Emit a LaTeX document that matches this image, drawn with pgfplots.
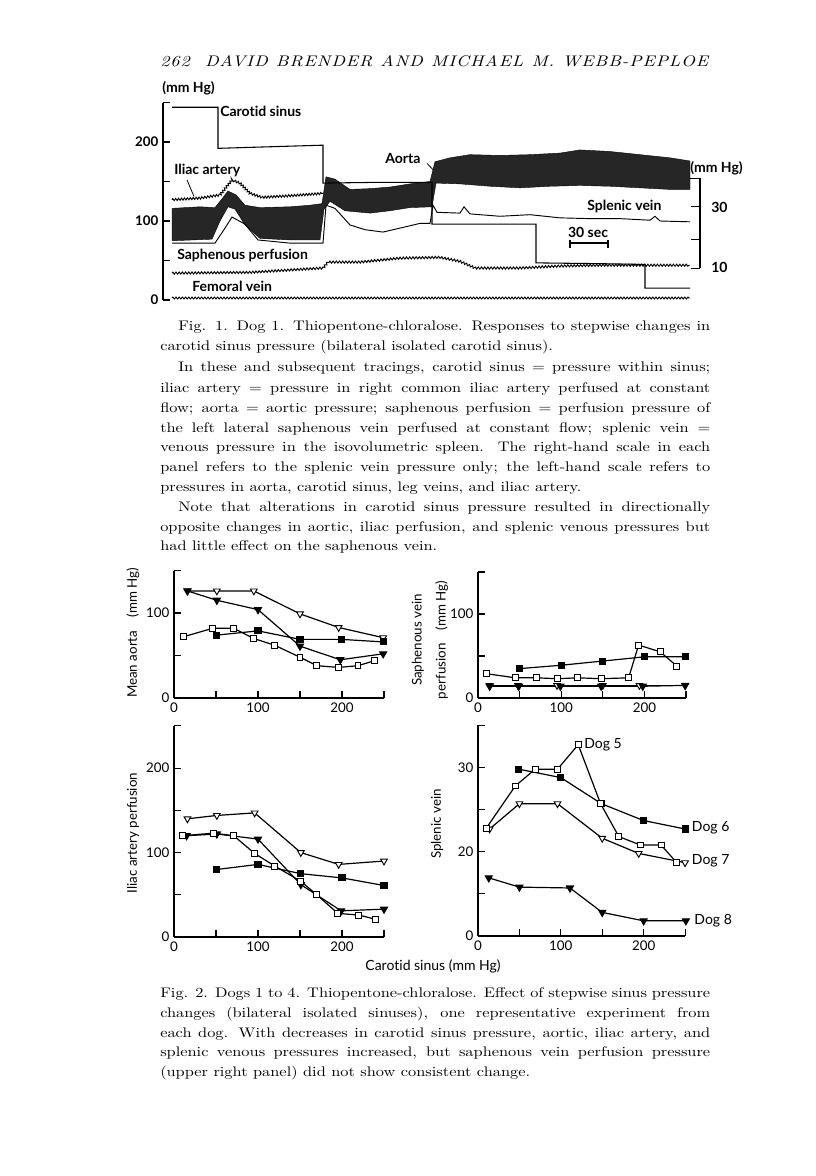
\documentclass[border=0pt]{standalone}
\usepackage{fontspec}
\setmainfont{lmroman10}[Extension=.otf,UprightFont=*-regular,ItalicFont=*-italic,BoldFont=*-bold,BoldItalicFont=*-bolditalic,FakeStretch=1.18]
\newfontfamily\gill{Lato}[Ligatures={NoCommon}]
\usepackage{pgfplots}
\pgfplotsset{compat=1.18}
\usetikzlibrary{decorations.pathmorphing}

\newcommand\Ln[4]{\node[anchor=base west,inner sep=0pt] at (#1,#2) {\makebox[#3pt][s]{#4}};}
\newcommand\Lx[3]{\node[anchor=base west,inner sep=0pt] at (#1,#2) {#3};}

\pgfplotsset{
  panel/.style={scale only axis, axis x line*=bottom, axis y line*=left,
    tick align=inside, major tick length=5pt, clip=false,
    axis line style={line width=0.9pt}, every tick/.style={black,line width=0.8pt},
    tick label style={font=\gill\fontsize{10}{11}\selectfont},
    xmin=0, xmax=250, xtick={0,50,100,150,200,250}, xticklabels={0,,100,,200,},
    every axis plot/.append style={black, line width=0.9pt}},
  osq/.style={mark=square*, mark size=2.2pt, mark options={fill=white,solid,line width=0.7pt}},
  fsq/.style={mark=square*, mark size=2.2pt, mark options={fill=black,solid}},
  otr/.style={mark=triangle*, mark size=2.9pt, mark options={fill=white,rotate=180,solid,line width=0.7pt}},
  ftr/.style={mark=triangle*, mark size=2.9pt, mark options={fill=black,rotate=180,solid}},
}

\begin{document}
\begin{tikzpicture}
\path[fill=white,use as bounding box] (0,0) rectangle (612pt,-882pt);

% ---------------- Fig. 1 traces ----------------
\begin{axis}[at={(122.25pt,-225pt)}, anchor=south west, scale only axis,
  width=402.75pt, height=148.1pt, xmin=163, xmax=700, ymin=0, ymax=250,
  axis x line=none, axis y line*=left, clip=false,
  tick align=inside, major tick length=5pt,
  axis line style={line width=0.9pt}, every tick/.style={black,line width=0.8pt},
  ytick={0,50,100,150,200,250}, yticklabels={0,,100,,200,},
  y tick label style={font=\gill\bfseries\fontsize{10}{12}\selectfont}]
% aorta (pulsatile band, upper and lower envelopes)
\addplot[draw=black, fill=black!85, line width=0.3pt] coordinates {
 (172,116)(200,118)(215,117)(222,128)(228,138)(236,133)(245,120)(260,117)(290,118)(310,120)(322,122)
 (326,156)(335,153)(350,140)(370,141)(390,143)(410,147)(430,150)
 (435,175)(450,180)(470,184)(500,183)(530,184)(560,186)(580,190)(610,188)(640,184)(670,180)(690,176)
 (690,140)(670,140)(640,142)(610,144)(580,145)(550,144)(520,142)(490,144)(460,147)(436,148)
 (432,118)(410,117)(390,113)(370,110)(345,113)(330,125)(324,115)
 (320,76)(290,76)(260,78)(245,95)(235,115)(228,118)(220,100)(212,77)(172,75)} -- cycle;
% carotid sinus
\addplot[black, line width=0.8pt] coordinates {
 (172,244)(218,244)(218,192)(270,194)(323,196)(323,148)(380,149)(432,149)(432,96)(536,96)
 (536,47)(600,46)(645,45)(645,15)(690,15)};
% splenic vein
\addplot[black, line width=0.7pt] coordinates {
 (172,72)(215,72)(225,91)(232,105)(245,96)(258,76)(290,72)(323,72)(326,120)(335,116)(350,95)
 (365,89)(383,86)(400,91)(420,97)(430,97)(433,120)(437,111)(460,110)(464,118)(470,109)(500,106)
 (530,108)(560,104)(590,103)(620,103)(650,101)(655,106)(660,100)(690,99)};
% iliac artery
\addplot[black, line width=0.7pt, decorate, decoration={zigzag,segment length=2.2pt,amplitude=0.8pt}] coordinates {
 (172,127)(200,129)(220,133)(232,152)(240,148)(250,135)(262,130)(290,132)(323,135)};
% saphenous perfusion
\addplot[black, line width=0.7pt, decorate, decoration={zigzag,segment length=2.4pt,amplitude=0.8pt}] coordinates {
 (172,34)(250,35)(323,40.5)(328,48)(360,48)(400,53)(440,54)(460,49)(475,40.5)(520,40.5)(560,43)(600,44)(690,44)};
% femoral vein
\addplot[black, line width=0.7pt, decorate, decoration={zigzag,segment length=2.4pt,amplitude=0.7pt}] coordinates {
 (172,2.5)(690,2.5)};
% right-hand scale (splenic vein, 10-40 mm Hg)
\draw[line width=0.9pt] (axis cs:690,154) -- (axis cs:700,154) -- (axis cs:700,40.1);
\draw[line width=0.8pt] (axis cs:691,118) -- (axis cs:700,118);
\draw[line width=0.8pt] (axis cs:691,76.8) -- (axis cs:700,76.8);
\draw[line width=0.8pt] (axis cs:691,40.1) -- (axis cs:700,40.1);
% 30 sec bar
\draw[line width=0.9pt] (axis cs:570,72.2) -- (axis cs:608,72.2);
\draw[line width=0.9pt] (axis cs:570,76) -- (axis cs:570,66);
\draw[line width=0.9pt] (axis cs:608,76) -- (axis cs:608,66);
% label leaders
\draw[line width=0.6pt] (axis cs:187,152) -- (axis cs:194,131);
\draw[line width=0.6pt] (axis cs:427,173) -- (axis cs:433,165);
\end{axis}

% ---------------- Fig. 2 panels ----------------
\begin{axis}[panel, at={(130.5pt,-523.5pt)}, anchor=south west, width=157.5pt, height=95.6pt,
  ymin=0, ymax=150, ytick={0,50,100,150}, yticklabels={0,,100,}]
\addplot[otr] coordinates {(16,126)(51,126)(95,126)(150,99)(196,83)(249,71)};
\addplot[ftr] coordinates {(16,126)(51,115)(100,104)(150,61)(198,45)(249,52)};
\addplot[fsq] coordinates {(51,74)(100,79)(150,69)(199,69)(249,66)};
\addplot[osq] coordinates {(11,72)(46,82)(71,82)(95,70)(120,62)(150,48)(170,38)(196,36)(219,38)(239,44)};
\end{axis}

\begin{axis}[panel, at={(358.5pt,-523.5pt)}, anchor=south west, width=156pt, height=94.5pt,
  ymin=0, ymax=150, ytick={0,50,100,150}, yticklabels={0,,100,}]
\addplot[fsq] coordinates {(50,35)(100,39)(150,44)(200,49)(249,49)};
\addplot[osq] coordinates {(10,29)(45,24)(70,24)(95,23)(120,24)(148,23)(181,24)(193,63)(219,55)(239,38)};
\addplot[otr] coordinates {(14,15)(48,15)(95,15)(150,15)(194,15)(249,15)};
\addplot[ftr] coordinates {(14,14)(49,14)(99,14)(148,14)(198,14)(249,15)};
\end{axis}

\begin{axis}[panel, at={(130.5pt,-702.75pt)}, anchor=south west, width=157.5pt, height=158.3pt,
  ymin=0, ymax=250, ytick={0,50,100,150,200,250}, yticklabels={0,,100,,200,}]
\addplot[otr] coordinates {(16,140)(51,144)(96,147)(151,100)(196,86)(250,90)};
\addplot[ftr] coordinates {(15,120)(51,122)(100,116)(151,62)(199,31)(250,33)};
\addplot[fsq] coordinates {(51,80)(100,86)(151,75)(200,70)(250,61)};
\addplot[osq] coordinates {(10,120)(47,123)(71,120)(96,99)(120,84)(151,66)(170,50)(195,28)(220,26)(240,21)};
\end{axis}

\begin{axis}[panel, at={(358.5pt,-702pt)}, anchor=south west, width=155.3pt, height=158pt,
  ymin=10, ymax=35, ytick={10,15,20,25,30,35}, yticklabels={0,,20,,30,}]
\addplot[fsq] coordinates {(49,29.8)(100,28.8)(149,25.7)(200,23.7)(250,22.7)};
\addplot[otr] coordinates {(14,22.7)(50,25.7)(96,25.7)(150,21.6)(194,19.8)(250,18.7)};
\addplot[osq] coordinates {(10,22.8)(45,27.8)(69,29.8)(96,29.8)(121,32.7)(148,25.7)(170,21.8)(196,20.8)(221,20.8)(240,18.7)};
\addplot[ftr] coordinates {(13,16.9)(50,15.8)(111,15.7)(150,12.8)(200,11.8)(251,11.8)};
\begin{scope}[font=\gill\fontsize{10.5}{12}\selectfont]
\node[anchor=west,inner sep=0pt] at (axis cs:128,32.7) {Dog 5};
\node[anchor=west,inner sep=0pt] at (axis cs:258,22.8) {Dog 6};
\node[anchor=west,inner sep=0pt] at (axis cs:258,18.9) {Dog 7};
\node[anchor=west,inner sep=0pt] at (axis cs:261,11.8) {Dog 8};
\end{scope}
\end{axis}

% ---------------- texts in page pixel units ----------------
\begin{scope}[x=0.75pt,y=-0.75pt]
\node[anchor=base west,inner sep=0pt] at (160,67) {\makebox[411pt][s]{\fontsize{11.5}{13}\selectfont\itshape\addfontfeatures{LetterSpace=6}262\quad DAVID BRENDER AND MICHAEL M. WEBB-PEPLOE}};

\begin{scope}[font=\gill\bfseries\fontsize{10.5}{12}\selectfont]
\node[anchor=west,inner sep=0pt] at (162,88) {(mm Hg)};
\node[anchor=west,inner sep=0pt] at (220,111) {Carotid sinus};
\node[anchor=west,inner sep=0pt] at (174,170) {Iliac artery};
\node[anchor=west,inner sep=0pt] at (385,158) {Aorta};
\node[anchor=west,inner sep=0pt] at (587,206) {Splenic vein};
\node[inner sep=0pt] at (588,232) {30 sec};
\node[anchor=west,inner sep=0pt] at (177,255) {Saphenous perfusion};
\node[anchor=west,inner sep=0pt] at (192,286) {Femoral vein};
\node[anchor=west,inner sep=0pt] at (690,168) {(mm Hg)};
\node[anchor=west,inner sep=0pt] at (711,207) {30};
\node[anchor=west,inner sep=0pt] at (711,267) {10};
\end{scope}

\begin{scope}[font=\gill\fontsize{10}{11}\selectfont]
\node[rotate=90] at (133,633) {Mean aorta\quad(mm Hg)};
\node[rotate=90,align=center] at (430,640) {Saphenous vein\\[7pt]perfusion\quad(mm Hg)};
\node[rotate=90] at (133,833) {Iliac artery perfusion};
\node[rotate=90] at (437,824) {Splenic vein};
\node at (433,966) {\fontsize{10.5}{12}\selectfont Carotid sinus (mm Hg)};
\end{scope}

\begin{scope}[font=\fontsize{10.4}{12}\selectfont]
\Ln{178}{331}{399}{Fig. 1. Dog 1. Thiopentone-chloralose. Responses to stepwise changes in}
\Lx{160}{351}{carotid sinus pressure (bilateral isolated carotid sinus).}
\Ln{178}{372}{399}{In these and subsequent tracings, carotid sinus = pressure within sinus;}
\Ln{160}{392}{412.5}{iliac artery = pressure in right common iliac artery perfused at constant}
\Ln{160}{412}{412.5}{flow; aorta = aortic pressure; saphenous perfusion = perfusion pressure of}
\Ln{160}{432}{412.5}{the left lateral saphenous vein perfused at constant flow; splenic vein =}
\Ln{160}{451}{412.5}{venous pressure in the isovolumetric spleen. The right-hand scale in each}
\Ln{160}{471}{412.5}{panel refers to the splenic vein pressure only; the left-hand scale refers to}
\Lx{160}{491}{pressures in aorta, carotid sinus, leg veins, and iliac artery.}
\Ln{178}{511}{399}{Note that alterations in carotid sinus pressure resulted in directionally}
\Ln{160}{531}{412.5}{opposite changes in aortic, iliac perfusion, and splenic venous pressures but}
\Lx{160}{550}{had little effect on the saphenous vein.}
\Ln{160}{997}{412.5}{Fig. 2. Dogs 1 to 4. Thiopentone-chloralose. Effect of stepwise sinus pressure}
\Ln{160}{1017}{412.5}{changes (bilateral isolated sinuses), one representative experiment from}
\Ln{160}{1037}{412.5}{each dog. With decreases in carotid sinus pressure, aortic, iliac artery, and}
\Ln{160}{1056}{412.5}{splenic venous pressures increased, but saphenous vein perfusion pressure}
\Lx{160}{1076}{(upper right panel) did not show consistent change.}
\end{scope}
\end{scope}
\end{tikzpicture}
\end{document}
